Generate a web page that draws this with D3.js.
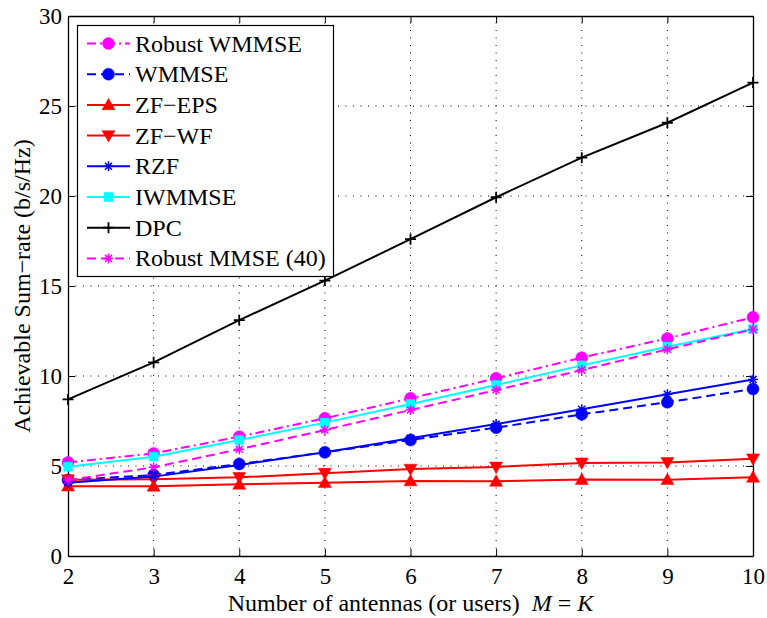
<!DOCTYPE html>
<html><head><meta charset="utf-8">
<script src="https://cdn.jsdelivr.net/npm/d3@7/dist/d3.min.js"></script>
<style>body{margin:0;background:#fff}svg{display:block}</style>
</head><body><svg id="c" width="767" height="618"></svg>
<script>
const xValues = [2, 3, 4, 5, 6, 7, 8, 9, 10];
const robustWMMSE = [5.2, 5.7, 6.63, 7.65, 8.76, 9.87, 11.02, 12.09, 13.26];
const wmmse = [4.22, 4.5, 5.11, 5.76, 6.44, 7.13, 7.87, 8.54, 9.28];
const zfEPS = [3.88, 3.87, 3.98, 4.07, 4.17, 4.15, 4.25, 4.24, 4.37];
const zfWF = [4.24, 4.26, 4.37, 4.6, 4.83, 4.95, 5.17, 5.2, 5.4];
const rzf = [4.07, 4.41, 5.06, 5.76, 6.54, 7.33, 8.15, 8.98, 9.81];
const iwmmse = [4.96, 5.52, 6.44, 7.41, 8.44, 9.5, 10.59, 11.63, 12.61];
const dpc = [8.7, 10.76, 13.1, 15.3, 17.6, 19.93, 22.13, 24.07, 26.3];
const robustMMSE40 = [4.22, 4.93, 5.93, 7.0, 8.11, 9.22, 10.33, 11.48, 12.59];
const seriesNames = ["Robust WMMSE", "WMMSE", "ZF\u2212EPS", "ZF\u2212WF", "RZF", "IWMMSE", "DPC", "Robust MMSE (40)"];
const xTicks = [2, 3, 4, 5, 6, 7, 8, 9, 10];
const yTicks = [0, 5, 10, 15, 20, 25, 30];

const seriesData = [robustWMMSE, wmmse, zfEPS, zfWF, rzf, iwmmse, dpc, robustMMSE40];
const styles = [
  {color: "#ff00ff", dash: "9,4,2,4", marker: "circle"},
  {color: "#0000ff", dash: "9,5", marker: "circle"},
  {color: "#ff0000", dash: null, marker: "triUp"},
  {color: "#ff0000", dash: null, marker: "triDown"},
  {color: "#0000ff", dash: null, marker: "asterisk"},
  {color: "#00ffff", dash: null, marker: "square"},
  {color: "#000000", dash: null, marker: "plus"},
  {color: "#ff00ff", dash: "9,5", marker: "asterisk"}
];

const W = 767, H = 618;
const m = {left: 68, right: 14, top: 16, bottom: 62};
const svg = d3.select("#c");
const x = d3.scaleLinear().domain([2, 10]).range([m.left, W - m.right]);
const y = d3.scaleLinear().domain([0, 30]).range([H - m.bottom, m.top]);
const FONT = "'Liberation Serif','Times New Roman',serif";

// grid
const grid = svg.append("g").attr("stroke", "#000").attr("stroke-width", 1).attr("stroke-dasharray", "1,6.5");
xTicks.slice(1, -1).forEach(t => grid.append("line").attr("x1", x(t)).attr("x2", x(t)).attr("y1", y(0)).attr("y2", y(30)));
yTicks.slice(1, -1).forEach(t => grid.append("line").attr("y1", y(t)).attr("y2", y(t)).attr("x1", x(2)).attr("x2", x(10)));

// axes
const tl = 7;
const xb = svg.append("g").attr("transform", `translate(0,${y(0)})`)
  .call(d3.axisBottom(x).tickValues(xTicks).tickSize(-tl).tickPadding(12).tickSizeOuter(0).tickFormat(d3.format("d")));
const xt = svg.append("g").attr("transform", `translate(0,${y(30)})`)
  .call(d3.axisTop(x).tickValues(xTicks).tickSize(-tl).tickSizeOuter(0).tickFormat(""));
const yl = svg.append("g").attr("transform", `translate(${x(2)},0)`)
  .call(d3.axisLeft(y).tickValues(yTicks).tickSize(-tl).tickPadding(6).tickSizeOuter(0));
const yr = svg.append("g").attr("transform", `translate(${x(10)},0)`)
  .call(d3.axisRight(y).tickValues(yTicks).tickSize(-tl).tickSizeOuter(0).tickFormat(""));
[xb, xt, yl, yr].forEach(g => {
  g.selectAll("path.domain").attr("stroke", "#000").attr("stroke-width", 1.3);
  g.selectAll(".tick line").attr("stroke", "#000").attr("stroke-width", 1);
  g.selectAll("text").attr("font-family", FONT).attr("font-size", 23).attr("fill", "#000");
});

// markers
function markerPath(type, cx, cy) {
  const p = d3.path();
  if (type === "triUp") { const r = 6.5; p.moveTo(cx, cy - r); p.lineTo(cx + r, cy + r * 0.75); p.lineTo(cx - r, cy + r * 0.75); p.closePath(); }
  else if (type === "triDown") { const r = 6.5; p.moveTo(cx, cy + r); p.lineTo(cx + r, cy - r * 0.75); p.lineTo(cx - r, cy - r * 0.75); p.closePath(); }
  else if (type === "square") { const r = 4.5; p.rect(cx - r, cy - r, 2 * r, 2 * r); }
  else if (type === "plus") { const r = 5.5; p.moveTo(cx - r, cy); p.lineTo(cx + r, cy); p.moveTo(cx, cy - r); p.lineTo(cx, cy + r); }
  else if (type === "asterisk") { const r = 5, d = r * 0.707; p.moveTo(cx - r, cy); p.lineTo(cx + r, cy); p.moveTo(cx, cy - r); p.lineTo(cx, cy + r); p.moveTo(cx - d, cy - d); p.lineTo(cx + d, cy + d); p.moveTo(cx - d, cy + d); p.lineTo(cx + d, cy - d); }
  return p.toString();
}
function drawMarker(g, st, cx, cy) {
  if (st.marker === "circle") {
    g.append("circle").attr("cx", cx).attr("cy", cy).attr("r", 6).attr("fill", st.color).attr("stroke", st.color).attr("stroke-width", 0.5);
  } else if (st.marker === "plus" || st.marker === "asterisk") {
    g.append("path").attr("d", markerPath(st.marker, cx, cy)).attr("fill", "none").attr("stroke", st.color).attr("stroke-width", st.marker === "plus" ? 1.8 : 1.5);
  } else {
    g.append("path").attr("d", markerPath(st.marker, cx, cy)).attr("fill", st.color).attr("stroke", st.color).attr("stroke-width", 0.5);
  }
}

const line = d3.line().x((d, i) => x(xValues[i])).y(d => y(d));
seriesData.forEach((vals, k) => {
  const st = styles[k];
  const g = svg.append("g");
  g.append("path").attr("d", line(vals)).attr("fill", "none").attr("stroke", st.color).attr("stroke-width", 2)
    .attr("stroke-dasharray", st.dash);
  vals.forEach((v, i) => drawMarker(g, st, x(xValues[i]), y(v)));
});

// legend
const lg = svg.append("g");
lg.append("rect").attr("x", 77.5).attr("y", 25.5).attr("width", 256).attr("height", 251).attr("fill", "#fff").attr("stroke", "#000").attr("stroke-width", 1.2);
seriesNames.forEach((name, k) => {
  const st = styles[k];
  const cy = 43.5 + k * 30.7;
  lg.append("line").attr("x1", 87).attr("x2", 130).attr("y1", cy).attr("y2", cy).attr("stroke", st.color).attr("stroke-width", 2).attr("stroke-dasharray", st.dash);
  drawMarker(lg, st, 108.5, cy);
  lg.append("text").attr("x", 135).attr("y", cy + 8).attr("font-family", FONT).attr("font-size", 24).text(name);
});

// axis titles
svg.append("text").attr("transform", `translate(30,${(y(0) + y(30)) / 2}) rotate(-90)`).attr("text-anchor", "middle")
  .attr("font-family", FONT).attr("font-size", 24).text("Achievable Sum\u2212rate (b/s/Hz)");
const xtText = svg.append("text").attr("x", (x(2) + x(10)) / 2).attr("y", 611).attr("text-anchor", "middle")
  .attr("font-family", FONT).attr("font-size", 24);
xtText.append("tspan").text("Number of antennas (or users)\u00a0\u00a0");
xtText.append("tspan").attr("font-style", "italic").text("M");
xtText.append("tspan").text(" = ");
xtText.append("tspan").attr("font-style", "italic").text("K");
</script></body></html>
